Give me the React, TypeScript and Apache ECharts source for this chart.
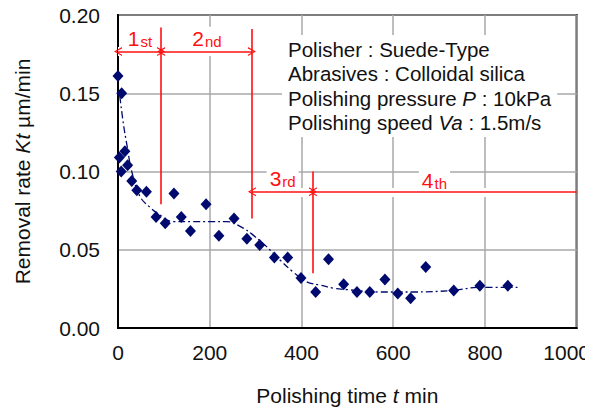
import React, { useEffect, useRef } from "react";
import * as echarts from "echarts";

const timeData = [0, 8, 3, 15, 21, 7, 30, 41, 62, 83, 103, 122, 138, 158, 192, 220, 253, 281, 309, 341, 370, 399, 431, 459, 492, 521, 549, 582, 610, 638, 671, 732, 789, 850];
const rateData = [0.161, 0.150, 0.109, 0.113, 0.104, 0.100, 0.094, 0.088, 0.087, 0.071, 0.067, 0.086, 0.071, 0.062, 0.079, 0.059, 0.070, 0.057, 0.053, 0.045, 0.045, 0.032, 0.023, 0.044, 0.028, 0.023, 0.023, 0.031, 0.022, 0.019, 0.039, 0.024, 0.027, 0.027];

const curveX = [4, 12, 20, 30, 48, 70, 85, 120, 163, 200, 237, 272, 294, 324, 353, 381, 411, 440, 469, 500, 571, 643, 730, 789, 871];
const curveY = [0.148, 0.130, 0.116, 0.100, 0.084, 0.077, 0.0735, 0.068, 0.068, 0.068, 0.068, 0.064, 0.0595, 0.052, 0.0435, 0.036, 0.0295, 0.0275, 0.0255, 0.0245, 0.023, 0.023, 0.024, 0.026, 0.026];

// stage boundaries (vertical red lines): x, top y, bottom y
const boundX = [94, 292, 425];
const boundTop = [0.192, 0.191, 0.100];
const boundBottom = [0.079, 0.070, 0.035];

// stage arrows: from x, to x, y, arrowhead at the end?
const arrowFrom = [0, 94, 292, 425];
const arrowTo = [94, 292, 425, 1000];
const arrowY = [0.1766, 0.1766, 0.087, 0.087];
const arrowEndHead = [true, true, true, false];

const stageNum = ["1", "2", "3", "4"];
const stageSuffix = ["st", "nd", "rd", "th"];
const stageLabelX = [48, 194, 359, 690];
const stageLabelY = [0.1855, 0.1855, 0.096, 0.0947];

const xTicks = [0, 200, 400, 600, 800, 1000];

const RED = "#ff1010";
const NAVY = "#000a6e";
const FONT = "Liberation Sans, Arial, sans-serif";
const ARROW = "path://M5,0L10,9L8.6,9L5,2.6L1.4,9L0,9Z";

export default function App() {
  const ref = useRef<HTMLDivElement>(null);
  useEffect(() => {
    if (!ref.current) return;
    const chart = echarts.init(ref.current, null, { renderer: "svg" });
    const option: any = {
      animation: false,
      backgroundColor: "#fff",
      grid: {
        left: 118,
        top: 15,
        right: 16,
        bottom: 83,
        show: true,
        borderColor: "#000",
        borderWidth: 2,
        backgroundColor: "transparent",
      },
      xAxis: {
        type: "value",
        min: 0,
        max: 1000,
        interval: 200,
        name: "Polishing time {i|t} min",
        nameLocation: "middle",
        nameGap: 57,
        nameTextStyle: {
          fontFamily: FONT,
          fontSize: 21,
          color: "#111",
          rich: { i: { fontStyle: "italic", fontFamily: FONT, fontSize: 21, color: "#111" } },
        },
        axisLine: { show: true, lineStyle: { color: "#000", width: 2 } },
        axisTick: { show: false },
        axisLabel: {
          margin: 14,
          fontFamily: FONT,
          fontSize: 21,
          color: "#111",
          formatter: (v: number) => (v === xTicks[xTicks.length - 1] ? `{last|${v}}` : `${v}`),
          rich: { last: { padding: [0, 20, 0, 0], fontFamily: FONT, fontSize: 21, color: "#111" } },
        },
        splitLine: { show: true, lineStyle: { color: "#a8a8a8", width: 1.5 } },
      },
      yAxis: {
        type: "value",
        min: 0,
        max: 0.2,
        interval: 0.05,
        name: "Removal rate {i|Kt} µm/min",
        nameLocation: "middle",
        nameGap: 85,
        nameTextStyle: {
          fontFamily: FONT,
          fontSize: 21,
          color: "#111",
          rich: { i: { fontStyle: "italic", fontFamily: FONT, fontSize: 21, color: "#111" } },
        },
        axisLine: { show: true, lineStyle: { color: "#000", width: 2 } },
        axisTick: { show: false },
        axisLabel: {
          margin: 18,
          fontFamily: FONT,
          fontSize: 21,
          color: "#111",
          formatter: (v: number) => v.toFixed(2),
        },
        splitLine: { show: true, lineStyle: { color: "#a8a8a8", width: 1.5 } },
      },
      series: [
        {
          type: "scatter",
          silent: true,
          data: [],
          z: 3,
          markLine: {
            silent: true,
            symbol: ["none", "none"],
            label: { show: false },
            lineStyle: { color: "#fff", width: 9, type: "solid", opacity: 1 },
            data: arrowFrom.map((f, i) => [
              { coord: [f + (i === 0 ? 0 : 6), arrowY[i]] },
              { coord: [arrowTo[i] - 6, arrowY[i]] },
            ]),
          },
        },
        {
          type: "line",
          data: curveX.map((x, i) => [x, curveY[i]]),
          smooth: 0.4,
          showSymbol: false,
          symbol: "none",
          silent: true,
          z: 4,
          lineStyle: { color: NAVY, width: 1.3, type: [7, 3, 2, 3], opacity: 1 },
        },
        {
          type: "scatter",
          data: timeData.map((t, i) => [t, rateData[i]]),
          symbol: "diamond",
          symbolSize: [11, 12],
          itemStyle: { color: NAVY, opacity: 1 },
          silent: true,
          z: 6,
        },
        {
          type: "scatter",
          silent: true,
          data: [],
          z: 5,
          markLine: {
            silent: true,
            symbol: ["none", "none"],
            label: { show: false },
            lineStyle: { color: RED, width: 1.6, type: "solid", opacity: 1 },
            data: boundX.map((x, i) => [
              { coord: [x, boundTop[i]] },
              { coord: [x, boundBottom[i]] },
            ]),
          },
        },
        {
          type: "scatter",
          silent: true,
          data: [],
          z: 5,
          markLine: {
            silent: true,
            symbolSize: [9, 8],
            label: { show: false },
            itemStyle: { color: RED, opacity: 1 },
            lineStyle: { color: RED, width: 1.6, type: "solid", opacity: 1 },
            data: arrowFrom.map((f, i) => [
              { coord: [f, arrowY[i]], symbol: ARROW },
              { coord: [arrowTo[i], arrowY[i]], symbol: arrowEndHead[i] ? ARROW : "none" },
            ]),
          },
        },
        {
          type: "scatter",
          silent: true,
          symbolSize: 0,
          z: 7,
          itemStyle: { opacity: 1 },
          data: stageNum.map((n, i) => [stageLabelX[i], stageLabelY[i], n, stageSuffix[i]]),
          label: {
            show: true,
            position: "inside",
            backgroundColor: "#fff",
            padding: [0, 3],
            formatter: (p: any) => `{a|${p.data[2]}}{b|${p.data[3]}}`,
            rich: {
              a: { fontFamily: FONT, fontSize: 21, color: RED, lineHeight: 22, verticalAlign: "bottom" },
              b: { fontFamily: FONT, fontSize: 15, color: RED, lineHeight: 22, verticalAlign: "bottom", padding: [0, 0, 0, 1] },
            },
          },
        },
      ],
      graphic: [
        {
          type: "text",
          left: 282,
          top: 35,
          z: 10,
          style: {
            text:
              "Polisher : Suede-Type\nAbrasives : Colloidal silica\nPolishing pressure {i|P} : 10kPa\nPolishing speed {i|Va} : 1.5m/s",
            fontFamily: FONT,
            fontSize: 20.5,
            lineHeight: 24.5,
            fill: "#111",
            backgroundColor: "#fff",
            padding: [2, 6, 2, 6],
            rich: {
              i: { fontStyle: "italic", fontFamily: FONT, fontSize: 20.5, lineHeight: 24.5, fill: "#111" },
            },
          },
        },
      ],
    };
    chart.setOption(option);
    return () => chart.dispose();
  }, []);
  return <div ref={ref} style={{ width: 593, height: 411, marginLeft: -8, marginTop: -8 }} />;
}
